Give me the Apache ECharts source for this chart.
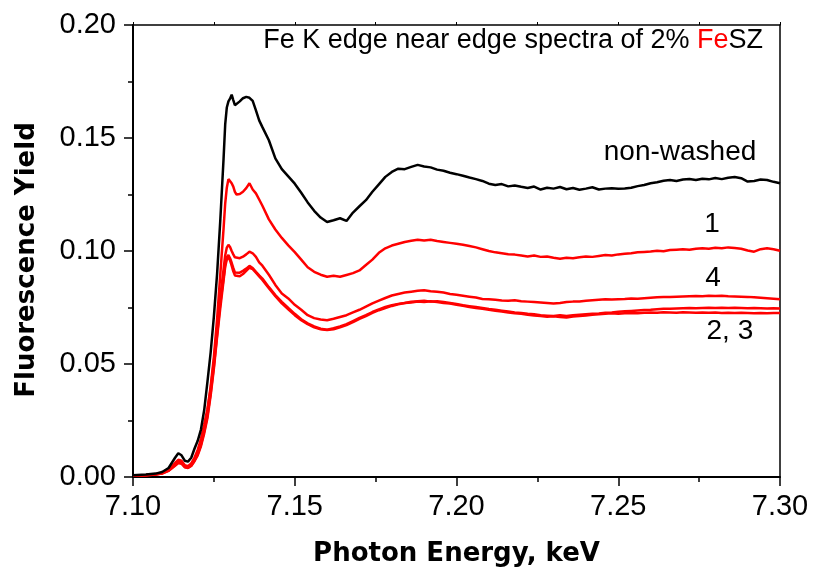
<!DOCTYPE html>
<html>
<head>
<meta charset="utf-8">
<script src="https://cdn.jsdelivr.net/npm/echarts@6/dist/echarts.min.js"></script>
<style>
  html, body { margin: 0; padding: 0; background: #fff; overflow: hidden; }
  #chart { width: 813px; height: 575px; }
</style>
</head>
<body>
<div id="chart"></div>
<script>
// Photon energy grid (keV), shared by all spectra
const energy = [
  7.100, 7.104, 7.107, 7.109, 7.111, 7.113, 7.114, 7.115, 7.116, 7.117,
  7.118, 7.119, 7.120, 7.121, 7.122, 7.123, 7.124, 7.125, 7.126, 7.127,
  7.128, 7.1285, 7.129, 7.1295, 7.130, 7.1305, 7.131, 7.1315, 7.132, 7.133,
  7.134, 7.135, 7.136, 7.137, 7.138, 7.139, 7.140,
  7.142, 7.144, 7.146, 7.148, 7.150, 7.152, 7.154, 7.156, 7.158, 7.160,
  7.162, 7.164, 7.166, 7.168, 7.170, 7.172, 7.174, 7.176, 7.178, 7.180,
  7.182, 7.184, 7.186, 7.188, 7.190, 7.192, 7.194, 7.196, 7.198, 7.200,
  7.202, 7.204, 7.206, 7.208, 7.210, 7.212, 7.214, 7.216, 7.218, 7.220,
  7.222, 7.224, 7.226, 7.228, 7.230, 7.232, 7.234, 7.236, 7.238, 7.240,
  7.242, 7.244, 7.246, 7.248, 7.250, 7.252, 7.254, 7.256, 7.258, 7.260,
  7.262, 7.264, 7.266, 7.268, 7.270, 7.272, 7.274, 7.276, 7.278, 7.280,
  7.282, 7.284, 7.286, 7.288, 7.290, 7.292, 7.294, 7.296, 7.298, 7.300
];

// Fluorescence yield, non-washed sample
const yNonWashed = [
  0.0008, 0.0011, 0.0015, 0.0022, 0.0040, 0.0085, 0.0105, 0.0096, 0.0072, 0.0068,
  0.0085, 0.0125, 0.0160, 0.0210, 0.0295, 0.0420, 0.0550, 0.0710, 0.0900, 0.1140,
  0.1410, 0.1560, 0.1635, 0.1662, 0.1674, 0.1692, 0.1668, 0.1645, 0.1650, 0.1662,
  0.1676, 0.1682, 0.1678, 0.1664, 0.1622, 0.1578, 0.1548,
  0.1490, 0.1410, 0.1362, 0.1330, 0.1298, 0.1258, 0.1215, 0.1178, 0.1148, 0.1128,
  0.1136, 0.1145, 0.1133, 0.1170, 0.1198, 0.1225, 0.1262, 0.1295, 0.1328, 0.1350,
  0.1364, 0.1362, 0.1372, 0.1381, 0.1374, 0.1370, 0.1360, 0.1355, 0.1346, 0.1340,
  0.1333, 0.1325, 0.1318, 0.1310, 0.1298, 0.1292, 0.1296, 0.1286, 0.1290, 0.1284,
  0.1279, 0.1285, 0.1272, 0.1280, 0.1276, 0.1283, 0.1273, 0.1279, 0.1271, 0.1276,
  0.1282, 0.1272, 0.1276, 0.1278, 0.1275, 0.1277, 0.1280, 0.1287, 0.1292, 0.1300,
  0.1304, 0.1311, 0.1314, 0.1310, 0.1316, 0.1319, 0.1314, 0.1320, 0.1317, 0.1323,
  0.1318, 0.1324, 0.1327, 0.1322, 0.1307, 0.1310, 0.1316, 0.1314, 0.1306, 0.1300
];

// Washed sample 1
const yWash1 = [
  0.0007, 0.0009, 0.0013, 0.0018, 0.0032, 0.0062, 0.0076, 0.0072, 0.0052, 0.0048,
  0.0060, 0.0085, 0.0120, 0.0168, 0.0232, 0.0300, 0.0400, 0.0530, 0.0700, 0.0900,
  0.1100, 0.1210, 0.1280, 0.1318, 0.1318, 0.1300, 0.1285, 0.1262, 0.1250, 0.1252,
  0.1262, 0.1278, 0.1300, 0.1272, 0.1255, 0.1228, 0.1200,
  0.1140, 0.1095, 0.1058, 0.1025, 0.0995, 0.0962, 0.0928, 0.0908, 0.0895, 0.0886,
  0.0890, 0.0886, 0.0894, 0.0902, 0.0914, 0.0938, 0.0962, 0.0992, 0.1012, 0.1024,
  0.1032, 0.1040, 0.1045, 0.1050, 0.1046, 0.1050, 0.1044, 0.1040, 0.1036, 0.1032,
  0.1028, 0.1022, 0.1016, 0.1008, 0.1000, 0.0994, 0.0990, 0.0986, 0.0984, 0.0980,
  0.0976, 0.0980, 0.0974, 0.0976, 0.0970, 0.0966, 0.0970, 0.0968, 0.0972, 0.0976,
  0.0974, 0.0978, 0.0982, 0.0980, 0.0985, 0.0988, 0.0990, 0.0994, 0.0996, 0.0998,
  0.1001, 0.0999, 0.1004, 0.1006, 0.1008, 0.1006, 0.1010, 0.1012, 0.1010, 0.1014,
  0.1012, 0.1016, 0.1013, 0.1010, 0.1002, 0.0997, 0.1008, 0.1012, 0.1008, 0.1001
];

// Washed sample 2
const yWash2 = [
  0.0006, 0.0008, 0.0011, 0.0016, 0.0028, 0.0052, 0.0064, 0.0061, 0.0044, 0.0041,
  0.0051, 0.0072, 0.0100, 0.0142, 0.0200, 0.0270, 0.0370, 0.0490, 0.0630, 0.0770,
  0.0880, 0.0940, 0.0972, 0.0982, 0.0968, 0.0948, 0.0925, 0.0905, 0.0900, 0.0904,
  0.0912, 0.0922, 0.0934, 0.0925, 0.0908, 0.0892, 0.0878,
  0.0840, 0.0805, 0.0775, 0.0748, 0.0722, 0.0698, 0.0680, 0.0666, 0.0656, 0.0652,
  0.0658, 0.0666, 0.0676, 0.0690, 0.0704, 0.0716, 0.0730, 0.0742, 0.0752, 0.0760,
  0.0766, 0.0770, 0.0775, 0.0778, 0.0780, 0.0776, 0.0778, 0.0774, 0.0770, 0.0766,
  0.0760, 0.0756, 0.0752, 0.0748, 0.0743, 0.0740, 0.0736, 0.0732, 0.0728, 0.0726,
  0.0722, 0.0720, 0.0716, 0.0714, 0.0712, 0.0716, 0.0712, 0.0716, 0.0718, 0.0720,
  0.0722, 0.0724, 0.0727, 0.0728, 0.0731, 0.0733, 0.0735, 0.0737, 0.0739, 0.0740,
  0.0742, 0.0744, 0.0745, 0.0746, 0.0747, 0.0748, 0.0747, 0.0748, 0.0749, 0.0748,
  0.0749, 0.0748, 0.0749, 0.0748, 0.0747, 0.0748, 0.0747, 0.0746, 0.0747, 0.0746
];

// Washed sample 3
const yWash3 = [
  0.0006, 0.0008, 0.0011, 0.0015, 0.0027, 0.0050, 0.0062, 0.0059, 0.0043, 0.0040,
  0.0049, 0.0070, 0.0096, 0.0136, 0.0192, 0.0260, 0.0360, 0.0480, 0.0620, 0.0750,
  0.0870, 0.0930, 0.0962, 0.0972, 0.0958, 0.0935, 0.0910, 0.0892, 0.0884, 0.0888,
  0.0898, 0.0912, 0.0926, 0.0920, 0.0904, 0.0888, 0.0872,
  0.0835, 0.0800, 0.0768, 0.0742, 0.0716, 0.0694, 0.0676, 0.0662, 0.0654, 0.0650,
  0.0654, 0.0662, 0.0672, 0.0685, 0.0700, 0.0712, 0.0726, 0.0738, 0.0748, 0.0757,
  0.0764, 0.0770, 0.0772, 0.0776, 0.0774, 0.0778, 0.0774, 0.0770, 0.0768, 0.0762,
  0.0758, 0.0752, 0.0748, 0.0744, 0.0740, 0.0736, 0.0732, 0.0728, 0.0725, 0.0722,
  0.0718, 0.0715, 0.0712, 0.0709, 0.0711, 0.0708, 0.0706, 0.0710, 0.0712, 0.0715,
  0.0718, 0.0720, 0.0722, 0.0724, 0.0722, 0.0725, 0.0726, 0.0725, 0.0727, 0.0728,
  0.0727, 0.0729, 0.0728, 0.0727, 0.0729, 0.0728, 0.0727, 0.0728, 0.0727, 0.0728,
  0.0726, 0.0727, 0.0726, 0.0727, 0.0726, 0.0725, 0.0726, 0.0725, 0.0726, 0.0726
];

// Washed sample 4
const yWash4 = [
  0.0007, 0.0009, 0.0012, 0.0017, 0.0030, 0.0058, 0.0070, 0.0066, 0.0048, 0.0045,
  0.0056, 0.0080, 0.0110, 0.0155, 0.0215, 0.0290, 0.0390, 0.0510, 0.0660, 0.0800,
  0.0920, 0.0980, 0.1015, 0.1027, 0.1018, 0.1000, 0.0985, 0.0972, 0.0966, 0.0968,
  0.0975, 0.0985, 0.0997, 0.0990, 0.0974, 0.0950, 0.0935,
  0.0895, 0.0850, 0.0812, 0.0790, 0.0762, 0.0740, 0.0716, 0.0703, 0.0697, 0.0694,
  0.0700, 0.0708, 0.0716, 0.0728, 0.0740, 0.0754, 0.0768, 0.0780, 0.0792, 0.0803,
  0.0810, 0.0816, 0.0820, 0.0824, 0.0826, 0.0822, 0.0820, 0.0816, 0.0810, 0.0806,
  0.0802, 0.0798, 0.0794, 0.0788, 0.0786, 0.0784, 0.0781, 0.0780, 0.0782, 0.0778,
  0.0776, 0.0774, 0.0772, 0.0770, 0.0768, 0.0770, 0.0774, 0.0776, 0.0777, 0.0780,
  0.0782, 0.0784, 0.0786, 0.0785, 0.0787, 0.0788, 0.0790, 0.0789, 0.0791, 0.0793,
  0.0795, 0.0796, 0.0797, 0.0798, 0.0799, 0.0800, 0.0801, 0.0800, 0.0802, 0.0801,
  0.0802, 0.0800, 0.0799, 0.0798, 0.0797, 0.0795, 0.0793, 0.0791, 0.0789, 0.0786
];

// Axis ticks
const xTicks = [7.10, 7.15, 7.20, 7.25, 7.30];
const yTicks = [0.00, 0.05, 0.10, 0.15, 0.20];

// Curve labels: text and anchor in data coordinates [keV, yield]
const curveLabels = [
  { text: 'non-washed', at: [7.2691, 0.1438] },
  { text: '1', at: [7.2790, 0.1119] },
  { text: '4', at: [7.2793, 0.0881] },
  { text: '2, 3', at: [7.2845, 0.0646] }
];

const pairs = ys => energy.map((e, i) => [e, ys[i]]);

const sansFont = 'Arial, "Liberation Sans", Helvetica, sans-serif';
const boldFont = '"DejaVu Sans", Verdana, sans-serif';

const labelMarks = {
  symbol: 'circle',
  symbolSize: 1,
  itemStyle: { color: 'rgba(0,0,0,0)' },
  label: {
    show: true,
    position: 'inside',
    formatter: p => p.name,
    color: '#000',
    fontSize: 28,
    fontFamily: sansFont
  },
  data: curveLabels.map(l => ({ name: l.text, coord: l.at })),
  silent: true,
  animation: false
};

const lineSeries = (name, ys, color, z, marks) => ({
  name,
  type: 'line',
  data: pairs(ys),
  showSymbol: false,
  symbol: 'none',
  lineStyle: { color, width: 2.5 },
  itemStyle: { color },
  z,
  animation: false,
  markPoint: marks
});

const chart = echarts.init(document.getElementById('chart'), null, { renderer: 'canvas', width: 813, height: 575 });

chart.setOption({
  backgroundColor: '#fff',
  animation: false,
  title: {
    text: '{a|Fe K edge near edge spectra of 2% }{r|Fe}{a|SZ}',
    right: 50,
    top: 26,
    padding: 0,
    textStyle: {
      fontWeight: 'normal',
      rich: {
        a: { color: '#000', fontSize: 27, fontWeight: 'normal', fontFamily: sansFont, lineHeight: 30 },
        r: { color: '#ff0000', fontSize: 27, fontWeight: 'normal', fontFamily: sansFont, lineHeight: 30 }
      }
    }
  },
  grid: { left: 133, width: 647, top: 25, height: 452, containLabel: false },
  xAxis: [
    {
      type: 'value',
      position: 'bottom',
      min: xTicks[0],
      max: xTicks[xTicks.length - 1],
      interval: 0.05,
      name: 'Photon Energy, keV',
      nameLocation: 'middle',
      nameGap: 64,
      nameTextStyle: { fontFamily: boldFont, fontWeight: 'bold', fontSize: 26, color: '#000' },
      axisLine: { show: true, onZero: false, lineStyle: { color: '#000', width: 2 } },
      axisTick: { show: true, inside: false, length: 9, lineStyle: { color: '#000', width: 1.5 } },
      minorTick: { show: true, splitNumber: 2, length: 5, lineStyle: { color: '#000', width: 1.5 } },
      axisLabel: {
        margin: 15,
        fontSize: 29,
        fontFamily: sansFont,
        color: '#000',
        formatter: v => v.toFixed(2)
      },
      splitLine: { show: false }
    },
    {
      type: 'value',
      position: 'top',
      min: xTicks[0],
      max: xTicks[xTicks.length - 1],
      interval: 0.05,
      axisLine: { show: true, onZero: false, lineStyle: { color: '#000', width: 1.5 } },
      axisTick: { show: true, inside: false, length: 3, lineStyle: { color: '#000', width: 1 } },
      minorTick: { show: true, splitNumber: 2, length: 3, lineStyle: { color: '#000', width: 1 } },
      axisLabel: { show: false },
      splitLine: { show: false }
    }
  ],
  yAxis: [
    {
      type: 'value',
      position: 'left',
      min: yTicks[0],
      max: yTicks[yTicks.length - 1],
      interval: 0.05,
      axisLine: { show: true, onZero: false, lineStyle: { color: '#000', width: 2 } },
      axisTick: { show: true, inside: false, length: 9, lineStyle: { color: '#000', width: 1.5 } },
      minorTick: { show: true, splitNumber: 2, length: 5, lineStyle: { color: '#000', width: 1.5 } },
      axisLabel: {
        margin: 17,
        fontSize: 29,
        fontFamily: sansFont,
        color: '#000',
        formatter: v => v.toFixed(2)
      },
      splitLine: { show: false }
    },
    {
      type: 'value',
      position: 'right',
      min: yTicks[0],
      max: yTicks[yTicks.length - 1],
      interval: 0.05,
      axisLine: { show: true, onZero: false, lineStyle: { color: '#000', width: 1.5 } },
      axisTick: { show: false },
      axisLabel: { show: false },
      splitLine: { show: false }
    }
  ],
  graphic: [
    {
      type: 'text',
      x: 27,
      y: 260,
      rotation: Math.PI / 2,
      style: {
        text: 'Fluorescence Yield',
        fill: '#000',
        font: 'bold 26px ' + boldFont,
        align: 'center',
        verticalAlign: 'middle'
      },
      silent: true
    }
  ],
  series: [
    lineSeries('2', yWash2, '#ff0000', 2),
    lineSeries('3', yWash3, '#ff0000', 2),
    lineSeries('4', yWash4, '#ff0000', 2),
    lineSeries('1', yWash1, '#ff0000', 2),
    lineSeries('non-washed', yNonWashed, '#000000', 3, labelMarks)
  ]
});
</script>
</body>
</html>
